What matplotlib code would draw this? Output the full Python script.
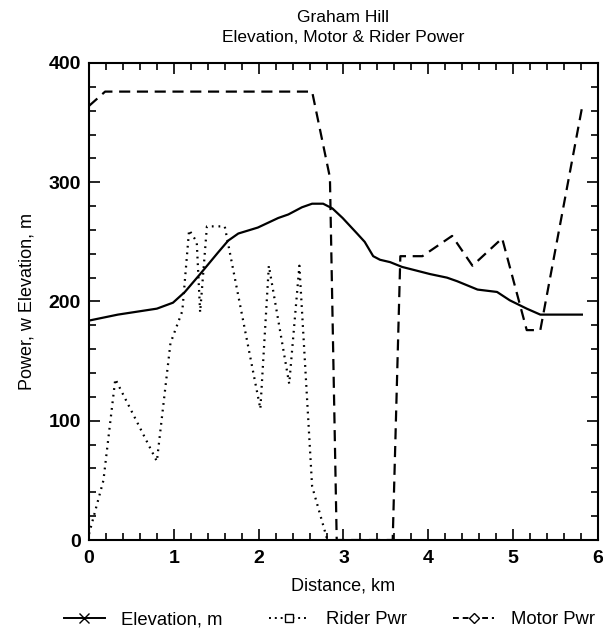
import matplotlib
matplotlib.use("Agg")
import matplotlib.pyplot as plt
from matplotlib.lines import Line2D
from matplotlib.ticker import MultipleLocator

plt.rcParams['font.family'] = ['Liberation Sans', 'DejaVu Sans']

# elevation profile, m
elev_km = [0, 0.34, 0.80, 0.99, 1.13, 1.31, 1.52, 1.64, 1.76, 1.99, 2.11, 2.23, 2.35,
           2.51, 2.63, 2.76, 2.87, 2.99, 3.16, 3.25, 3.35, 3.43, 3.55, 3.69, 4.02,
           4.22, 4.34, 4.58, 4.81, 4.96, 5.16, 5.32, 5.81]
elev_m = [184, 189, 194, 199, 208, 223, 241, 251, 257, 262, 266, 270, 273,
          279, 282, 282, 278, 270, 257, 250, 238, 235, 233, 229, 223,
          220, 217, 210, 208, 201, 194, 189, 189]

# rider power, w
rider_km = [0, 0.17, 0.31, 0.80, 0.96, 1.10, 1.18, 1.27, 1.31, 1.39, 1.60,
            2.02, 2.12, 2.36, 2.48, 2.63, 2.81]
rider_w = [5, 50, 135, 66, 165, 192, 260, 250, 191, 263, 263,
           110, 230, 131, 230, 45, 0]

# motor power, w
motor_km = [0, 0.19, 2.63, 2.84, 2.92, 3.58, 3.67, 3.93, 4.28, 4.52, 4.87,
            5.16, 5.32, 5.81]
motor_w = [364, 376, 376, 304, 0, 0, 238, 238, 255, 230, 253,
           176, 176, 362]

fig = plt.figure(figsize=(6.03, 6.33), dpi=100)
ax = fig.add_axes([0.1476, 0.1469, 0.8441, 0.7536])

ax.plot(elev_km, elev_m, color='black', lw=1.6)
ax.plot(rider_km, rider_w, color='black', lw=1.6, linestyle=(0, (0.8, 2.2)))
ax.plot(motor_km, motor_w, color='black', lw=1.6, linestyle=(0, (5, 3)))

ax.set_xlim(0, 6)
ax.set_ylim(0, 400)
ax.xaxis.set_major_locator(MultipleLocator(1))
ax.xaxis.set_minor_locator(MultipleLocator(0.2))
ax.yaxis.set_major_locator(MultipleLocator(100))
ax.yaxis.set_minor_locator(MultipleLocator(20))
ax.tick_params(which='both', direction='in', top=True, right=True, width=1.2)
ax.tick_params(which='major', length=8, labelsize=14)
ax.tick_params(axis='x', which='major', pad=7)
ax.tick_params(axis='y', which='major', pad=6)
ax.tick_params(which='minor', length=5)
for lbl in ax.get_xticklabels() + ax.get_yticklabels():
    lbl.set_fontweight('bold')
for s in ax.spines.values():
    s.set_linewidth(1.5)

ax.set_xlabel('Distance, km', fontsize=13, labelpad=8)
ax.set_ylabel('Power, w Elevation, m', fontsize=13, labelpad=9)
ax.set_title('Graham Hill\nElevation, Motor & Rider Power', fontsize=12.5,
             pad=15, linespacing=1.4)

handles = [
    Line2D([], [], color='black', lw=1.4, marker='x', markersize=7),
    Line2D([], [], color='black', lw=1.4, linestyle=(0, (1, 2)), marker='s',
           markersize=6, markerfacecolor='white', markeredgewidth=1),
    Line2D([], [], color='black', lw=1.4, linestyle=(0, (3, 2)), marker='D',
           markersize=5, markerfacecolor='white', markeredgewidth=1),
]
fig.legend(handles, ['Elevation, m', 'Rider Pwr', 'Motor Pwr'],
           loc='center', bbox_to_anchor=(0.546, 0.021), ncol=3, frameon=False,
           fontsize=13.3, handlelength=2.2, columnspacing=2.5, handletextpad=0.9,
           borderpad=0)

fig.savefig('out.png', dpi=100)
